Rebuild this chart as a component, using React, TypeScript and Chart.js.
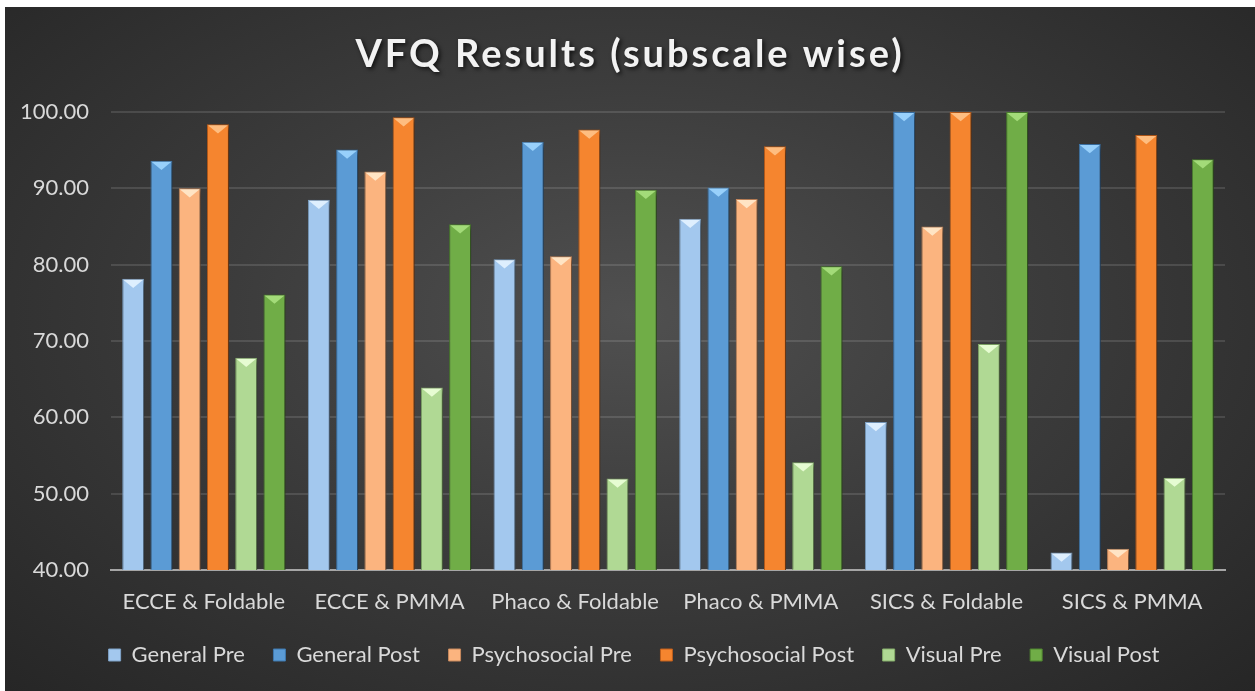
import React, { useEffect, useRef } from "react";
import { Chart, registerables } from "chart.js";

Chart.register(...registerables);

const titleText = "VFQ Results (subscale wise)";
const categories = [
  "ECCE & Foldable",
  "ECCE & PMMA",
  "Phaco & Foldable",
  "Phaco & PMMA",
  "SICS & Foldable",
  "SICS & PMMA",
];
const seriesNames = [
  "General Pre",
  "General Post",
  "Psychosocial Pre",
  "Psychosocial Post",
  "Visual Pre",
  "Visual Post",
];
const generalPre = [78.15, 88.5, 80.7, 86.0, 59.4, 42.3];
const generalPost = [93.6, 95.1, 96.1, 90.1, 100.0, 95.8];
const psychosocialPre = [90.0, 92.2, 81.1, 88.6, 85.0, 42.8];
const psychosocialPost = [98.4, 99.3, 97.7, 95.5, 100.0, 97.0];
const visualPre = [67.8, 63.9, 52.0, 54.1, 69.6, 52.1];
const visualPost = [76.1, 85.3, 89.8, 79.8, 100.0, 93.8];
const seriesValues = [generalPre, generalPost, psychosocialPre, psychosocialPost, visualPre, visualPost];

const yMin = 40;
const yMax = 100;
const yStep = 10;

const fillColors = ["#A3C8EE", "#5B9BD5", "#FBB47F", "#F5852F", "#B0D994", "#70AD47"];
const edgeColors = ["#7FA3C8", "#3F78AE", "#C98A5E", "#BF5F1C", "#86AF6C", "#4E8530"];
const bevelColors = ["#E4F3FF", "#9ED6FF", "#FFE9CC", "#FFC38A", "#ECFFD8", "#A9E07E"];

const FONT = "Lato, 'Open Sans', 'DejaVu Sans', sans-serif";

const bevelPlugin = {
  id: "bevel",
  beforeDatasetsDraw(chart: any) {
    const ctx = chart.ctx;
    ctx.save();
    ctx.shadowColor = "rgba(0,0,0,0.55)";
    ctx.shadowBlur = 6;
    ctx.shadowOffsetX = 3;
    ctx.shadowOffsetY = 2;
  },
  afterDatasetsDraw(chart: any) {
    const ctx = chart.ctx;
    ctx.restore();
    chart.data.datasets.forEach((ds: any, i: number) => {
      const meta = chart.getDatasetMeta(i);
      meta.data.forEach((bar: any) => {
        const { x, y, width, base } = bar.getProps(["x", "y", "width", "base"], true);
        const l = x - width / 2 + 1;
        const r = x + width / 2 - 1;
        const h = base - y;
        const d = Math.min(width * 0.42, h / 2);
        ctx.save();
        ctx.beginPath();
        ctx.moveTo(l, y + 1);
        ctx.lineTo(r, y + 1);
        ctx.lineTo(x, y + d);
        ctx.closePath();
        ctx.fillStyle = bevelColors[i];
        ctx.globalAlpha = 0.9;
        ctx.fill();
        ctx.beginPath();
        ctx.moveTo(l, base - 1);
        ctx.lineTo(r, base - 1);
        ctx.lineTo(x, base - d);
        ctx.closePath();
        ctx.fillStyle = "rgba(255,255,255,0.12)";
        ctx.globalAlpha = 1;
        ctx.fill();
        ctx.restore();
      });
    });
  },
};

const legendShiftPlugin = {
  id: "legendShift",
  afterLayout(chart: any) {
    const lg = chart.legend;
    if (lg) {
      lg.left += 19;
      lg.right += 19;
    }
  },
};

const titlePlugin = {
  id: "customTitle",
  afterDraw(chart: any) {
    const ctx = chart.ctx;
    ctx.save();
    ctx.font = `bold 38px ${FONT}`;
    (ctx as any).letterSpacing = "3px";
    ctx.textAlign = "center";
    ctx.textBaseline = "middle";
    ctx.shadowColor = "rgba(0,0,0,0.7)";
    ctx.shadowBlur = 4;
    ctx.shadowOffsetX = 2;
    ctx.shadowOffsetY = 2;
    ctx.fillStyle = "#F2F2F2";
    ctx.fillText(titleText, 625, 48);
    ctx.restore();
  },
};

export default function App() {
  const ref = useRef<HTMLCanvasElement | null>(null);

  useEffect(() => {
    if (!ref.current) return;
    const chart = new Chart(ref.current, {
      type: "bar",
      data: {
        labels: categories,
        datasets: seriesNames.map((name, i) => ({
          label: name,
          data: seriesValues[i],
          backgroundColor: fillColors[i],
          borderColor: edgeColors[i],
          borderWidth: 1,
          categoryPercentage: 0.913,
          barPercentage: 0.778,
        })),
      },
      options: {
        animation: false,
        responsive: false,
        devicePixelRatio: 1,
        layout: { padding: { top: 105, left: 0, right: 30, bottom: 15 } },
        plugins: {
          title: { display: false },
          tooltip: { enabled: false },
          legend: {
            position: "bottom",
            labels: {
              color: "#D9D9D9",
              font: { family: FONT, size: 22 },
              boxWidth: 12,
              boxHeight: 12,
              padding: 28.6,
            },
          },
        },
        scales: {
          x: {
            grid: { display: false, drawTicks: false },
            border: { display: true, color: "#A6A6A6", width: 2 },
            afterFit(scale: any) {
              scale.height = 45.4;
            },
            ticks: {
              color: "#D9D9D9",
              font: { family: FONT, size: 22 },
              padding: 19,
              maxRotation: 0,
              autoSkip: false,
            },
          },
          y: {
            min: yMin,
            max: yMax,
            afterFit(scale: any) {
              scale.width = 106;
            },
            ticks: {
              stepSize: yStep,
              color: "#D9D9D9",
              font: { family: FONT, size: 22 },
              padding: 22,
              callback: (v: any) => Number(v).toFixed(2),
            },
            grid: { color: "rgba(255,255,255,0.12)", lineWidth: 2, drawTicks: false },
            border: { display: false },
          },
        },
      },
      plugins: [bevelPlugin, legendShiftPlugin, titlePlugin],
    } as any);
    return () => chart.destroy();
  }, []);

  return (
    <div style={{ position: "fixed", left: 0, top: 0, width: 1255, height: 691, background: "#FFFFFF" }}>
      <div
        style={{
          position: "absolute",
          left: 5,
          top: 7,
          width: 1250,
          height: 684,
          background: "radial-gradient(ellipse at 50% 45%, #505050 0%, #3c3c3c 45%, #262626 100%)",
        }}
      >
        <canvas ref={ref} width={1250} height={684} style={{ display: "block", width: 1250, height: 684 }} />
      </div>
    </div>
  );
}
